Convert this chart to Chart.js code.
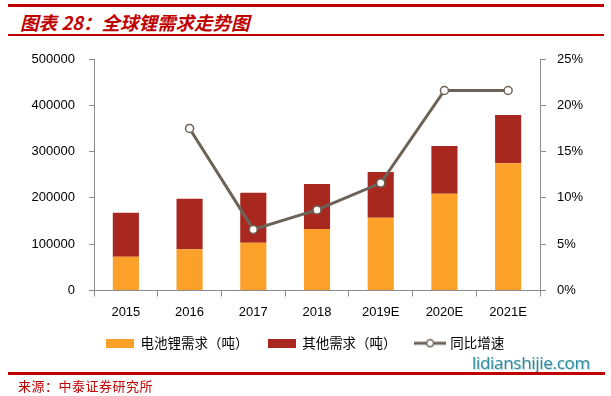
<!DOCTYPE html>
<html>

<head>
    <meta charset="utf-8">
    <title>全球锂需求走势图</title>
    <script src="https://cdn.jsdelivr.net/npm/chart.js@4.4.1/dist/chart.umd.min.js"></script>
    <style>
        html,
        body {
            margin: 0;
            padding: 0;
            background: #ffffff;
        }

        #page {
            position: relative;
            width: 611px;
            height: 396px;
            overflow: hidden;
        }

        #chartBox {
            position: absolute;
            left: 0;
            top: 0;
            width: 611px;
            height: 396px;
        }

        .rule {
            position: absolute;
            background: #c00000;
        }

        #title {
            position: absolute;
            left: 20px;
            top: 10px;
            font-family: "Noto Sans CJK SC", sans-serif;
            font-size: 18.5px;
            font-weight: bold;
            font-style: italic;
            color: #c00000;
            white-space: nowrap;
            line-height: 24px;
        }

        #source {
            position: absolute;
            left: 18px;
            top: 378px;
            font-family: "Noto Sans CJK SC", sans-serif;
            font-size: 13px;
            color: #c00000;
            letter-spacing: 0.5px;
            line-height: 16px;
        }

        #mark {
            position: absolute;
            left: 472px;
            top: 352px;
            font-family: "Open Sans", sans-serif;
            font-size: 17px;
            color: #2b8b9e;
            text-shadow: 1px 1px 1px rgba(120, 160, 170, 0.5);
            line-height: 22px;
            letter-spacing: -0.3px;
        }
    </style>
</head>

<body>
    <div id="page">
        <div class="rule" style="left:8px; top:4px; width:596px; height:3px;"></div>
        <div id="title">图表 28：全球锂需求走势图</div>
        <div class="rule" style="left:8px; top:34px; width:596px; height:1.5px;"></div>

        <div id="chartBox"><canvas id="lithium"></canvas></div>

        <div id="mark">lidianshijie.com</div>
        <div class="rule" style="left:8px; top:372px; width:597px; height:2.5px;"></div>
        <div id="source">来源：中泰证券研究所</div>
    </div>

    <script>
        // data
        const years = ['2015', '2016', '2017', '2018', '2019E', '2020E', '2021E']
        const batteryDemand = [73000, 89000, 103000, 133000, 157000, 209000, 275000]
        const otherDemand = [95000, 109000, 108000, 97000, 99000, 103000, 104000]
        const growthRate = [null, 17.5, 6.6, 8.7, 11.6, 21.6, 21.6]
        const leftTicks = [0, 100000, 200000, 300000, 400000, 500000]
        const rightTicks = [0, 5, 10, 15, 20, 25]

        const orange = '#fba12a'
        const darkRed = '#a8281f'
        const lineGrey = '#6b6357'
        const axisGrey = '#8c8c8c'

        // little pictures for the legend markers
        function boxIcon(color) {
            const c = document.createElement('canvas')
            c.width = 28
            c.height = 9
            const g = c.getContext('2d')
            g.fillStyle = color
            g.fillRect(0, 0, 28, 9)
            return c
        }

        function lineIcon() {
            const c = document.createElement('canvas')
            c.width = 32
            c.height = 10
            const g = c.getContext('2d')
            g.strokeStyle = lineGrey
            g.lineWidth = 3
            g.beginPath()
            g.moveTo(0, 5)
            g.lineTo(32, 5)
            g.stroke()
            g.beginPath()
            g.arc(16, 5, 3.5, 0, Math.PI * 2)
            g.fillStyle = '#ffffff'
            g.fill()
            g.lineWidth = 1.5
            g.stroke()
            return c
        }

        const icons = [boxIcon(orange), boxIcon(darkRed), lineIcon()]
        const tickFont = { family: '"Liberation Sans", Arial, sans-serif', size: 13 }

        const ctx = document.getElementById('lithium').getContext('2d')
        const chart = new Chart(ctx, {
            type: 'bar',
            data: {
                labels: years,
                datasets: [{
                    label: '电池锂需求（吨）',
                    data: batteryDemand,
                    backgroundColor: orange,
                    stack: 'demand',
                    yAxisID: 'y',
                    order: 2,
                    categoryPercentage: 1,
                    barPercentage: 0.41,
                }, {
                    label: '其他需求（吨）',
                    data: otherDemand,
                    backgroundColor: darkRed,
                    stack: 'demand',
                    yAxisID: 'y',
                    order: 2,
                    categoryPercentage: 1,
                    barPercentage: 0.41,
                }, {
                    type: 'line',
                    label: '同比增速',
                    data: growthRate,
                    yAxisID: 'y1',
                    borderColor: lineGrey,
                    borderWidth: 3,
                    pointRadius: 4,
                    pointBorderWidth: 1.5,
                    pointBackgroundColor: '#ffffff',
                    pointBorderColor: lineGrey,
                    tension: 0,
                    order: 1,
                }]
            },
            options: {
                responsive: true,
                maintainAspectRatio: false,
                animation: false,
                layout: {
                    padding: { top: 59, bottom: 36, left: 0, right: 0 }
                },
                plugins: {
                    tooltip: { enabled: false },
                    legend: {
                        position: 'bottom',
                        labels: {
                            usePointStyle: true,
                            pointStyleWidth: 27,
                            padding: 20,
                            color: '#000000',
                            font: { family: '"Noto Sans CJK SC", sans-serif', size: 13.5 },
                            generateLabels: function (ch) {
                                return ch.data.datasets.map(function (ds, i) {
                                    return {
                                        text: ds.label,
                                        pointStyle: icons[i],
                                        fillStyle: 'transparent',
                                        strokeStyle: 'transparent',
                                        lineWidth: 0,
                                        fontColor: '#000000',
                                        datasetIndex: i,
                                        hidden: false,
                                    }
                                })
                            }
                        }
                    }
                },
                scales: {
                    x: {
                        stacked: true,
                        grid: {
                            offset: true,
                            drawOnChartArea: false,
                            tickLength: 6,
                            color: axisGrey,
                        },
                        border: { color: axisGrey, width: 1 },
                        ticks: { font: tickFont, color: '#000000', padding: 8, maxRotation: 0 },
                        afterFit: function (s) { s.height = 26 },
                    },
                    y: {
                        stacked: true,
                        position: 'left',
                        min: 0,
                        max: 500000,
                        afterBuildTicks: function (s) { s.ticks = leftTicks.map(v => ({ value: v })) },
                        grid: {
                            drawOnChartArea: false,
                            tickLength: 5,
                            color: axisGrey,
                        },
                        border: { color: axisGrey, width: 1 },
                        ticks: {
                            font: tickFont,
                            color: '#000000',
                            padding: 14,
                            callback: v => String(v),
                        },
                        afterFit: function (s) { s.width = 94 },
                    },
                    y1: {
                        position: 'right',
                        min: 0,
                        max: 25,
                        afterBuildTicks: function (s) { s.ticks = rightTicks.map(v => ({ value: v })) },
                        grid: {
                            drawOnChartArea: false,
                            tickLength: 6,
                            color: axisGrey,
                        },
                        border: { color: axisGrey, width: 1 },
                        ticks: {
                            font: tickFont,
                            color: '#000000',
                            padding: 11,
                            callback: v => v + '%',
                        },
                        afterFit: function (s) { s.width = 71 },
                    }
                }
            }
        })
    </script>
</body>

</html>
